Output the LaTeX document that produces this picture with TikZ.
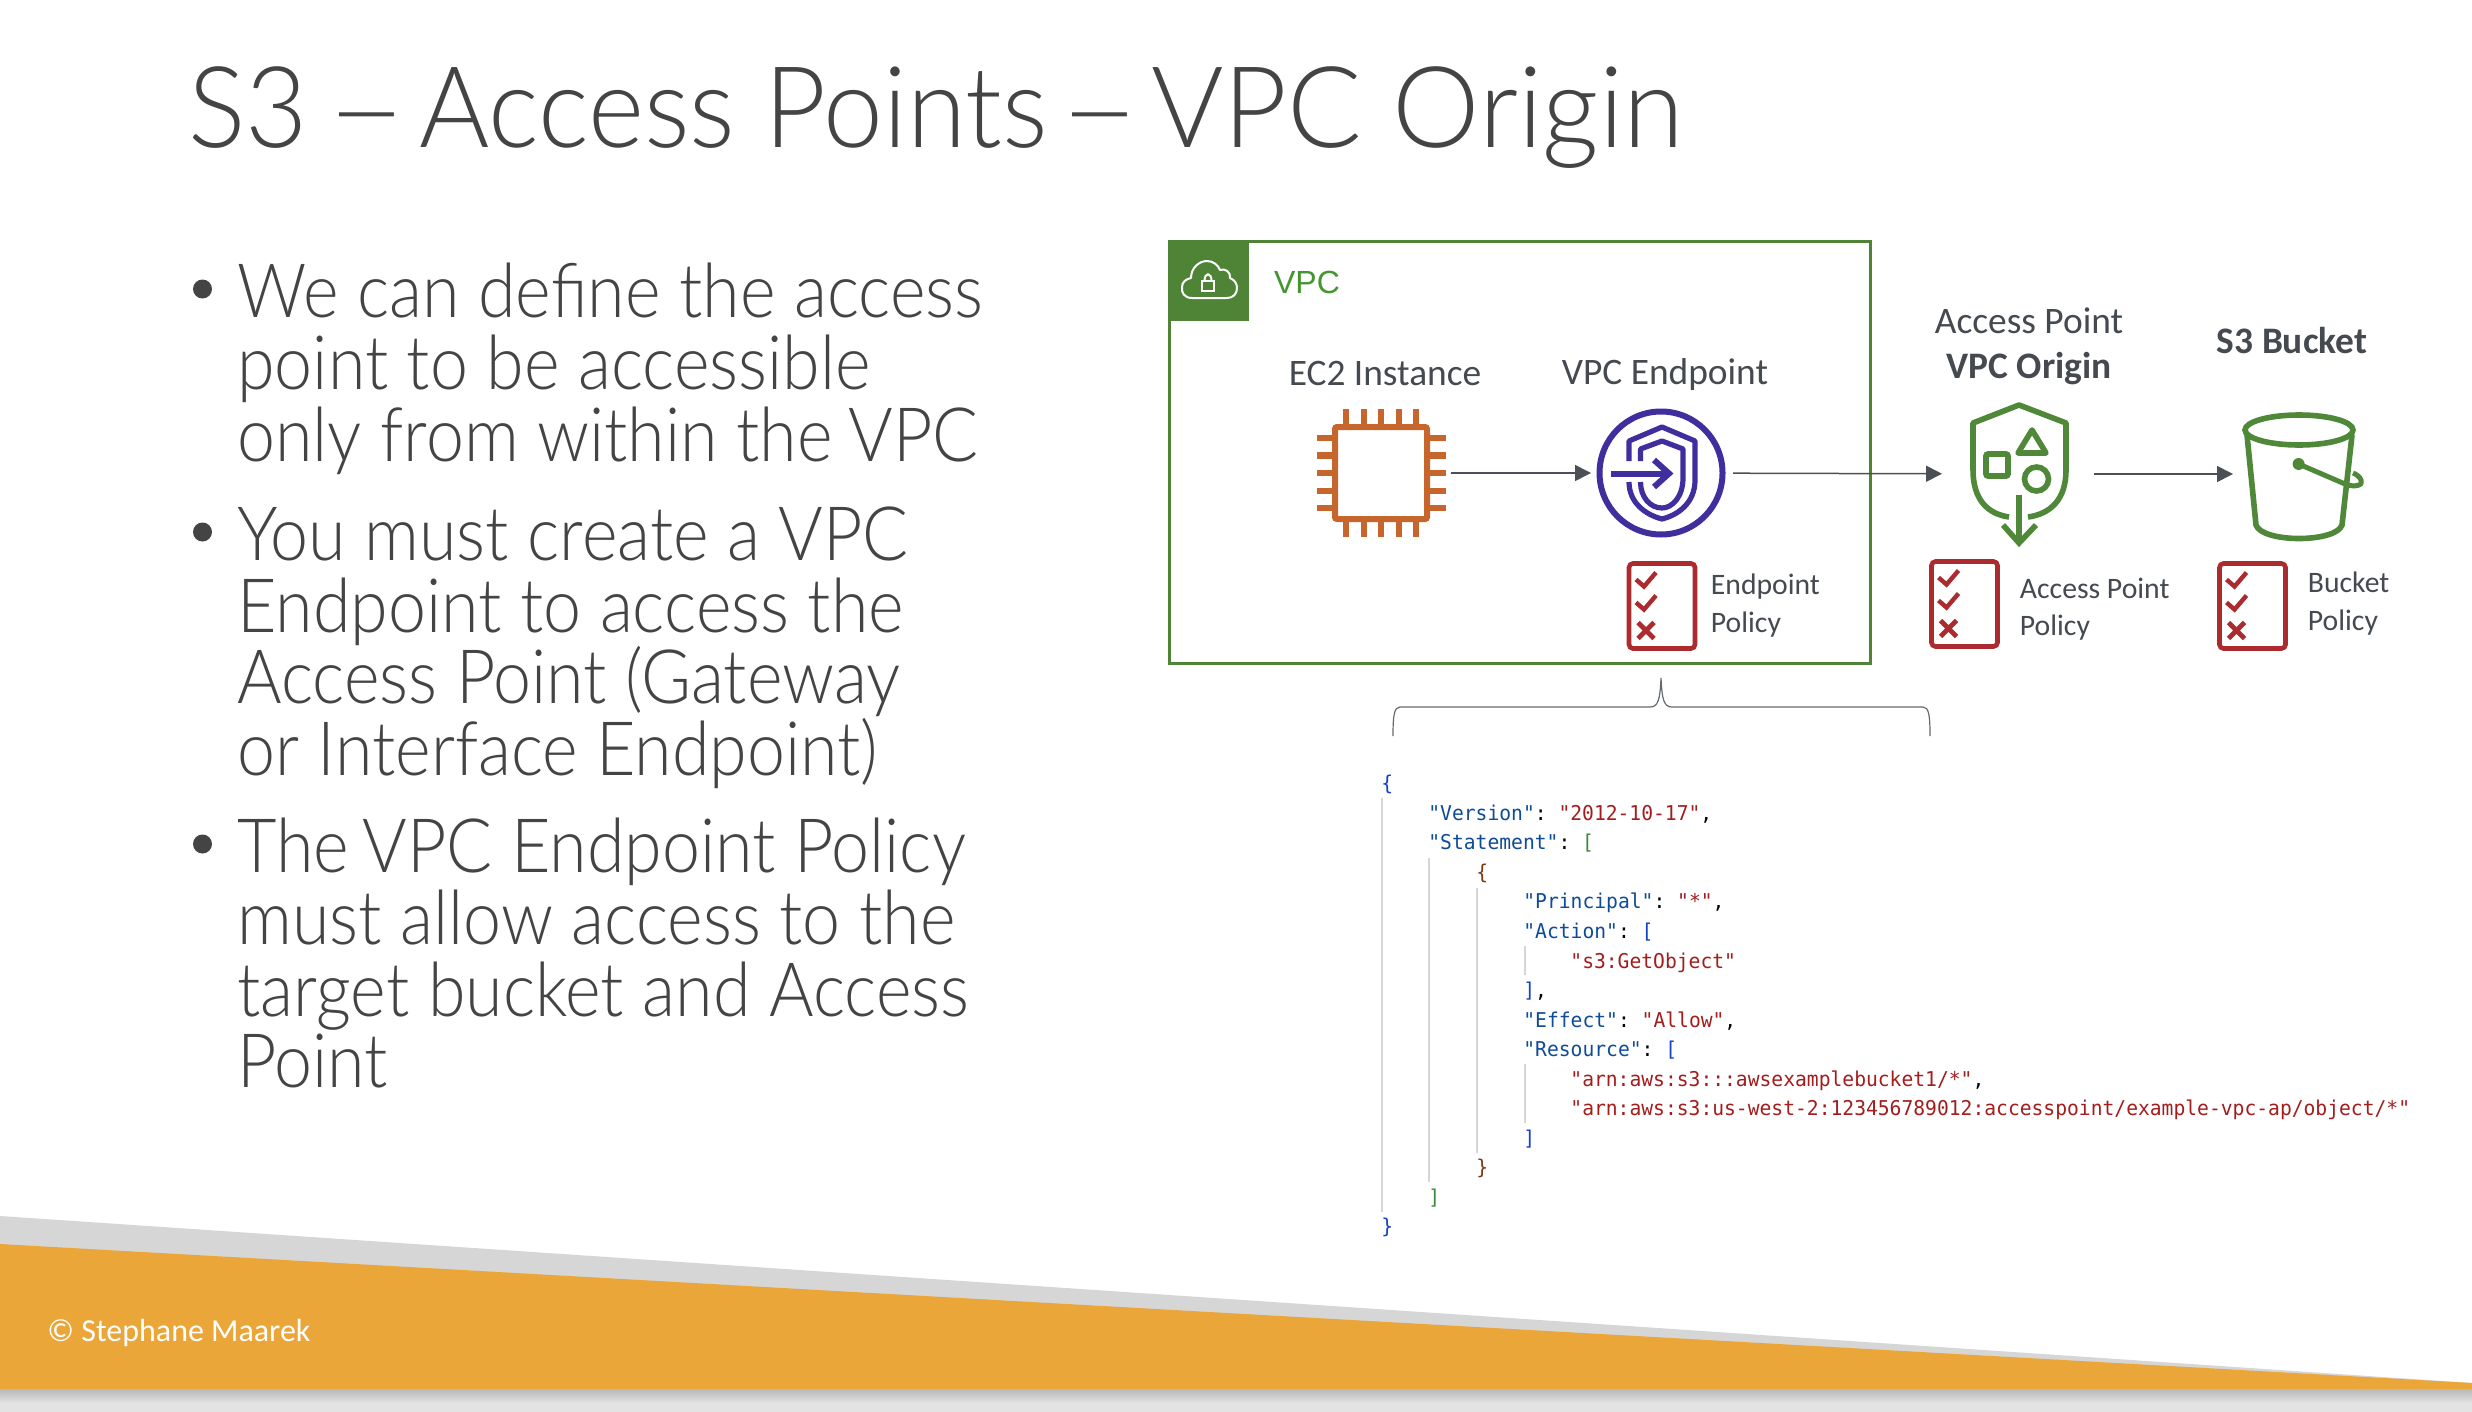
\documentclass[tikz,border=0pt]{standalone}
\usepackage{fontspec}
\usetikzlibrary{arrows.meta}
\setmainfont{Carlito}
\newfontfamily\titlefont[UprightFont=* Light,FakeStretch=0.95]{Lato}
\newfontfamily\bodyfont[UprightFont=* Light,FakeStretch=0.908]{Lato}
\newfontfamily\arialfont{Liberation Sans}
\newfontfamily\jsonfont[Ligatures=NoCommon,FakeStretch=0.963]{DejaVu Sans Mono}
\definecolor{ink}{HTML}{444444}
\definecolor{lab}{HTML}{454A50}
\definecolor{vgreen}{HTML}{4F8436}
\definecolor{apgreen}{HTML}{4E8838}
\definecolor{chip}{HTML}{C7662C}
\definecolor{purp}{HTML}{3F2E9E}
\definecolor{pol}{HTML}{AC2B2E}
\definecolor{arrowc}{HTML}{4A5056}
\definecolor{jkey}{HTML}{0F4C97}
\definecolor{jstr}{HTML}{A31D1D}
\definecolor{jblue}{HTML}{1540C8}
\definecolor{jgreen}{HTML}{3C8A3C}
\definecolor{jbrown}{HTML}{7B3814}
\definecolor{guide}{HTML}{D6D6D6}
\definecolor{footorange}{RGB}{235,166,57}
\newcommand{\jk}[1]{\textcolor{jkey}{#1}}
\newcommand{\js}[1]{\textcolor{jstr}{#1}}
\newcommand{\jb}[1]{\textcolor{jblue}{#1}}
\newcommand{\widedash}{\scalebox{1.3}[1]{–}}
\tikzset{
  titletext/.style={anchor=base west,inner sep=0pt,text=ink,font=\titlefont\fontsize{56.5}{56.5}\selectfont},
  bodytext/.style={anchor=base west,inner sep=0pt,text=ink,font=\bodyfont\fontsize{37.5}{37.5}\selectfont},
  labeltext/.style={anchor=base,inner sep=0pt,text=lab,font=\fontsize{18.7}{18.7}\selectfont},
  boldlabel/.style={labeltext,font=\bfseries\fontsize{18.7}{18.7}\selectfont},
  smalltext/.style={anchor=base west,inner sep=0pt,text=lab,font=\fontsize{14.85}{14.85}\selectfont},
  jsontext/.style={anchor=base west,inner sep=0pt,font=\jsonfont\fontsize{10.2}{10.2}\selectfont\frenchspacing},
  iconbox/.style={inner sep=0pt,outer sep=0pt,draw=none},
  flow/.style={draw=arrowc,line width=0.75pt,-{Triangle[length=8pt,width=8pt]}},
  guideline/.style={draw=guide,line width=0.6pt},
  bulletdot/.style={circle,fill=ink,inner sep=0pt,minimum size=9.5pt},
  policyicon/.pic={
    \draw[pol,line width=2.3pt,rounded corners=2pt] (0,0) rectangle (66,85);
    \draw[pol,line width=2.2pt] (7,16) -- (15,23) -- (27,9);
    \draw[pol,line width=2.2pt] (7,39) -- (15,46) -- (27,32);
    \draw[pol,line width=2.4pt] (9,59) -- (25,75) (25,59) -- (9,75);
  }
}
\begin{document}
\begin{tikzpicture}[x=0.5pt,y=-0.5pt]
\useasboundingbox (0,0) rectangle (2472,1412);
\fill[white] (0,0) rectangle (2472,1412);

% footer
\fill[black!16] (0,1216) -- (2472,1383) -- (2472,1389) -- (0,1389) -- cycle;
\fill[footorange] (0,1244) -- (2472,1383) -- (2472,1389) -- (0,1389) -- cycle;
\shade[top color=black!28,bottom color=black!11] (0,1389) rectangle (2472,1403);
\fill[black!11] (0,1403) rectangle (2472,1412);
\node[anchor=base west,inner sep=0pt,text=white,font=\fontsize{16}{16}\selectfont] (copy) at (47,1341.5) {© Stephane Maarek};

% title
\node[titletext] (title) at (188,148) {S3\hspace{-5.6pt} \widedash\hspace{-8.2pt} Access Points\hspace{-8.7pt} \widedash\kern5.6pt\scalebox{1.03}[1]{VPC Origin}};

% bullets
\node[bulletdot] (b1) at (202.5,289) {};
\node[bodytext] (l1) at (237,317) {We can define the access};
\node[bodytext] (l2) at (237,389.5) {point to be accessible};
\node[bodytext] (l3) at (237,461) {only from within the\hspace{-1.5pt} VPC};
\node[bulletdot] (b2) at (202.5,532) {};
\node[bodytext] (l4) at (237,560.5) {You must create a VPC};
\node[bodytext] (l5) at (237,632) {Endpoint to access the};
\node[bodytext] (l6) at (237,703.5) {Access Point (Gateway};
\node[bodytext] (l7) at (237,775) {or Interface Endpoint)};
\node[bulletdot] (b3) at (202.5,844) {};
\node[bodytext] (l8) at (237,872.5) {The\hspace{-2.4pt} VPC Endpoint Policy};
\node[bodytext] (l9) at (237,944) {must allow access to the};
\node[bodytext] (l10) at (237,1016) {target bucket and Access};
\node[bodytext] (l11) at (237,1087.5) {Point};

% VPC group
\draw[vgreen,line width=1.5pt] (1169,242) rectangle (1870,663);
\fill[vgreen] (1168,241) rectangle (1249,321);
\draw[white,line width=1pt,line join=round]
  (1192,298) .. controls (1184,298) and (1181,292) .. (1182,287)
  .. controls (1182,282) and (1186,279) .. (1191,278)
  .. controls (1191,268) and (1199,261) .. (1207,261)
  .. controls (1213,261) and (1218,265) .. (1220,270)
  .. controls (1225,268) and (1231,272) .. (1230,278)
  .. controls (1235,280) and (1237,284) .. (1237,288)
  .. controls (1237,294) and (1233,298) .. (1227,298) -- cycle;
\draw[white,line width=1pt] (1202,281) rectangle (1214,291);
\draw[white,line width=1pt] (1204.5,281) .. controls (1204.5,272) and (1211.5,272) .. (1211.5,281);
\node[anchor=base,inner sep=0pt,text=vgreen!85!green,font=\arialfont\fontsize{16}{16}\selectfont] (vpc) at (1307,293) {VPC};

% EC2
\node[labeltext] (ec2label) at (1385,385) {EC2 Instance};
\node[iconbox,minimum width=69.5pt,minimum height=65pt] (ec2) at (1381,473) {};
\draw[chip,line width=3pt,rounded corners=1pt] (1335,427) rectangle (1427,519);
\foreach \x in {1346,1364,1381,1399,1416} {
  \draw[chip,line width=3.4pt] (\x,409) -- (\x,425);
  \draw[chip,line width=3.4pt] (\x,521) -- (\x,537);
}
\foreach \y in {438,455.5,473,491,508} {
  \draw[chip,line width=3.4pt] (1317,\y) -- (1333,\y);
  \draw[chip,line width=3.4pt] (1429,\y) -- (1446,\y);
}

% VPC endpoint
\node[labeltext] (velabel) at (1665,384) {VPC Endpoint};
\node[iconbox,minimum width=71pt,minimum height=65pt] (vpce) at (1662,473) {};
\draw[purp,line width=3pt] (1661,473) circle[radius=61.5];
\draw[purp,line width=2.6pt,line join=round]
  (1629,461) -- (1629,441) -- (1662,427) -- (1695,441) -- (1695,480)
  .. controls (1695,503) and (1678,515) .. (1662,519)
  .. controls (1646,515) and (1629,503) .. (1629,482);
\draw[purp,line width=2.6pt,line join=round]
  (1640.5,461) -- (1640.5,449) -- (1662,441) -- (1683,449) -- (1683,478)
  .. controls (1683,497) and (1672,508) .. (1662,508)
  .. controls (1650,508) and (1640.5,497) .. (1640.5,482);
\draw[purp,line width=3pt] (1610.5,473.5) -- (1668,473.5);
\draw[purp,line width=3pt,line join=miter] (1654,460) -- (1669,473.5) -- (1654,487);

% endpoint policy
\pic at (1629,563.5) {policyicon};
\node[smalltext] (ep1) at (1710.5,594.5) {Endpoint};
\node[smalltext] (ep2) at (1710.5,632.5) {Policy};

% Access point
\node[labeltext] (ap1) at (2029,333.5) {Access Point};
\node[boldlabel] (ap2) at (2029,378.5) {VPC Origin};
\node[iconbox,minimum width=76pt,minimum height=70pt] (ap) at (2018,474) {};
\draw[apgreen,line width=2.8pt,line join=round]
  (2009,517) .. controls (1988,514) and (1973,500) .. (1973,470)
  -- (1973,423) -- (2019,405) -- (2066,423) -- (2066,470)
  .. controls (2066,500) and (2050,514) .. (2028,517);
\draw[apgreen,line width=2.8pt,rounded corners=1pt] (1986,454) rectangle (2008,476);
\draw[apgreen,line width=2.8pt,line join=round] (2032,430) -- (2046,453) -- (2018,453) -- cycle;
\draw[apgreen,line width=2.8pt] (2036.5,479) circle[radius=12];
\draw[apgreen,line width=2.8pt] (2019,495) -- (2019,541);
\draw[apgreen,line width=2.8pt] (2003,525) -- (2019,543) -- (2036,525);
\pic at (1931.5,561.5) {policyicon};
\node[smalltext] (ap3) at (2019.5,598.5) {Access Point};
\node[smalltext] (ap4) at (2019.5,635.5) {Policy};

% bucket
\node[boldlabel] (s3) at (2292,353.5) {S3 Bucket};
\node[iconbox,minimum width=60pt,minimum height=70pt] (bucket) at (2293,474) {};
\draw[apgreen,line width=2.8pt] (2299,430) ellipse[x radius=54,y radius=15];
\draw[apgreen,line width=2.8pt,line join=round]
  (2247,435) -- (2256,525) .. controls (2262,543) and (2336,543) .. (2342,525) -- (2352,435);
\fill[apgreen] (2298.6,464) circle[radius=6];
\draw[apgreen,line width=2.5pt,line join=round]
  (2298.6,464) -- (2345,484) .. controls (2355,488) and (2364,485) .. (2361,480)
  .. controls (2360,477) and (2356,474) .. (2353,473);
\pic at (2219.5,563.5) {policyicon};
\node[smalltext] (bk1) at (2307.5,592.5) {Bucket};
\node[smalltext] (bk2) at (2307.5,630.5) {Policy};

% connectors
\draw[flow] (ec2) -- (vpce);
\draw[flow] (vpce) -- (ap);
\draw[flow] (ap) -- (bucket);

% brace
\coordinate (bracetip) at (1661,678);
\coordinate (braceleft) at (1393,736);
\coordinate (braceright) at (1930,736);
\draw[arrowc!85,line width=0.6pt]
  (braceleft) .. controls (1393,716) and (1394,707) .. (1400,707) -- (1650,707)
  .. controls (1658,707) and (1660,700) .. (bracetip)
  .. controls (1662,700) and (1664,707) .. (1672,707) -- (1923,707)
  .. controls (1929,707) and (1930,716) .. (braceright);

% JSON
\draw[guideline] (1382,798) -- (1382,1212);
\draw[guideline] (1429,858) -- (1429,1182);
\draw[guideline] (1477,888) -- (1477,1153);
\draw[guideline] (1525,946) -- (1525,975);
\draw[guideline] (1525,1064) -- (1525,1123);
\node[jsontext] (j1) at (1381,790) {\jb{\{}};
\node[jsontext] (j2) at (1428,820) {\jk{"Version"}: \js{"2012-10-17"},};
\node[jsontext] (j3) at (1428,849) {\jk{"Statement"}: \textcolor{jgreen}{[}};
\node[jsontext] (j4) at (1476,879) {\textcolor{jbrown}{\{}};
\node[jsontext] (j5) at (1523,908) {\jk{"Principal"}: \js{"*"},};
\node[jsontext] (j6) at (1523,938) {\jk{"Action"}: \jb{[}};
\node[jsontext] (j7) at (1570,968) {\js{"s3:GetObject"}};
\node[jsontext] (j8) at (1523,997) {\jb{]},};
\node[jsontext] (j9) at (1523,1027) {\jk{"Effect"}: \js{"Allow"},};
\node[jsontext] (j10) at (1523,1056) {\jk{"Resource"}: \jb{[}};
\node[jsontext] (j11) at (1570,1086) {\js{"arn:aws:s3:::awsexamplebucket1/*"},};
\node[jsontext] (j12) at (1570,1115) {\js{"arn:aws:s3:us-west-2:123456789012:accesspoint/example-vpc-ap/object/*"}};
\node[jsontext] (j13) at (1523,1145) {\jb{]}};
\node[jsontext] (j14) at (1476,1174) {\textcolor{jbrown}{\}}};
\node[jsontext] (j15) at (1428,1204) {\textcolor{jgreen}{]}};
\node[jsontext] (j16) at (1381,1233) {\jb{\}}};
\end{tikzpicture}
\end{document}
